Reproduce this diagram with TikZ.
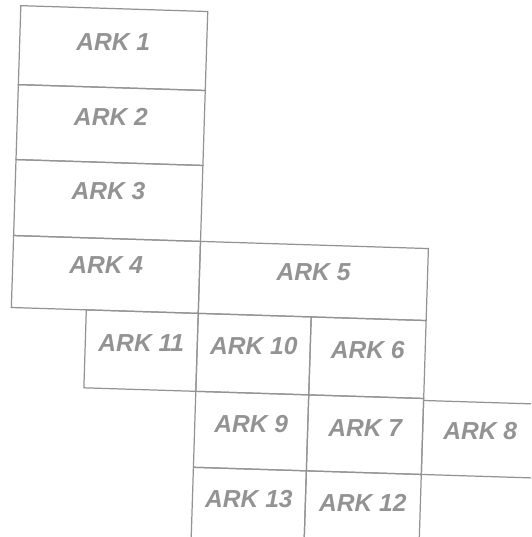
\documentclass[tikz,border=0pt]{standalone}
\usepackage{fontspec}
\setmainfont{Liberation Sans}
\usepackage{tikz}

\begin{document}
\begin{tikzpicture}[x=0.02cm,y=-0.02cm,
  sheet/.style={draw=gray!85,line width=0.7pt},
  arklabel/.style={text=gray!85,font=\fontsize{14}{16}\selectfont\bfseries\itshape}]
\useasboundingbox (0,0) rectangle (531,537);
\clip (0,0) rectangle (531,537);
\begin{scope}[rotate=-1.8]
% left column
\draw[sheet] (21,5) rectangle (208,84);
\draw[sheet] (21,84) rectangle (208,159);
\draw[sheet] (21,159) rectangle (208,235);
\draw[sheet] (21,235) rectangle (208,307);
% right part
\draw[sheet] (208,235) rectangle (436,307);
\draw[sheet] (96,307) rectangle (208,385);
\draw[sheet] (208,307) rectangle (321,385);
\draw[sheet] (321,307) rectangle (436,385);
\draw[sheet] (208,385) rectangle (321,461);
\draw[sheet] (321,385) rectangle (436,461);
\draw[sheet] (436,387) rectangle (560,461);
\draw[sheet] (208,461) rectangle (321,560);
\draw[sheet] (321,461) rectangle (436,560);
% labels
\node[arklabel] (ark1) at (114.5,38) {ARK 1};
\node[arklabel] (ark2) at (114.5,113) {ARK 2};
\node[arklabel] (ark3) at (114.5,188) {ARK 3};
\node[arklabel] (ark4) at (114.5,262) {ARK 4};
\node[arklabel] (ark5) at (322,262) {ARK 5};
\node[arklabel] (ark11) at (152,338) {ARK 11};
\node[arklabel] (ark10) at (264.5,338) {ARK 10};
\node[arklabel] (ark6) at (378.5,338) {ARK 6};
\node[arklabel] (ark9) at (264.5,416) {ARK 9};
\node[arklabel] (ark7) at (378.5,416) {ARK 7};
\node[arklabel] (ark8) at (493.5,416) {ARK 8};
\node[arklabel] (ark13) at (264.5,491) {ARK 13};
\node[arklabel] (ark12) at (378.5,491) {ARK 12};
\end{scope}
\end{tikzpicture}
\end{document}
